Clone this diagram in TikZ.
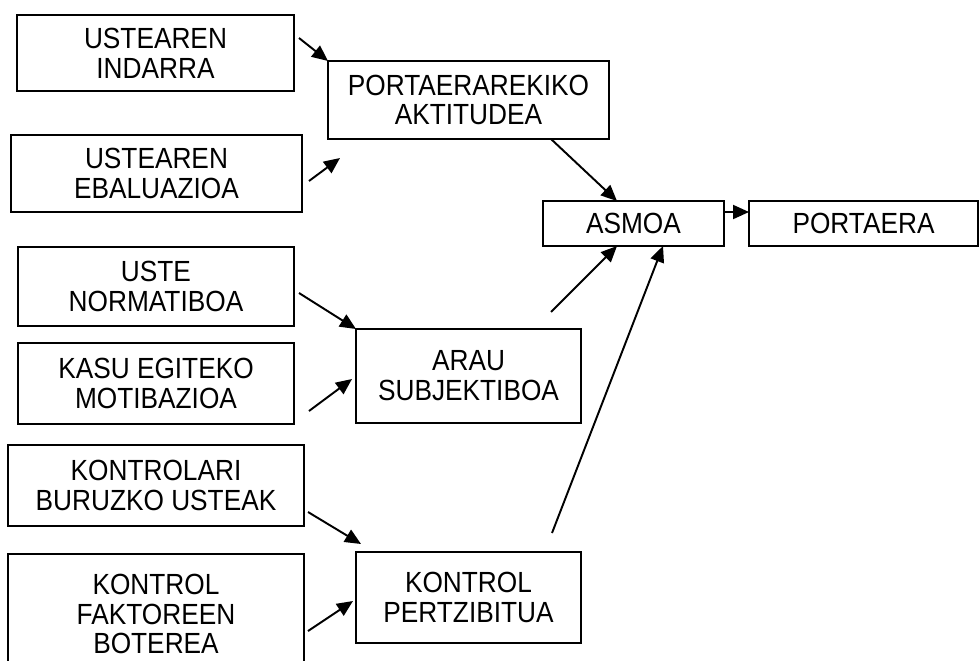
\documentclass[tikz,border=0pt]{standalone}
\usepackage{fontspec}
\setmainfont{Liberation Sans}[FakeStretch=0.9]
\usepackage{tikz}
\usetikzlibrary{arrows.meta,positioning,calc}

\tikzset{
  box/.style={draw, line width=1.1pt, inner sep=0pt, outer sep=0pt, align=center,
    font=\fontsize{16.6}{17}\selectfont},
  arr/.style={line width=1.1pt, -{Triangle[length=0.32cm,width=0.28cm]}}
}

\begin{document}
\begin{tikzpicture}[x=0.02cm, y=-0.02cm]
\useasboundingbox (0,0) rectangle (979,660);
\clip (0,0) rectangle (979,660);

% boxes
\node[box, minimum width=5.54cm, minimum height=1.52cm] (ind) at (155.5,53) {USTEAREN\\INDARRA};
\node[box, minimum width=5.82cm, minimum height=1.54cm] (ebal) at (156.5,173.5) {USTEAREN\\EBALUAZIOA};
\node[box, minimum width=5.62cm, minimum height=1.56cm] (akt) at (468.5,100) {PORTAERAREKIKO\\AKTITUDEA};
\node[box, minimum width=3.62cm, minimum height=0.90cm] (asmoa) at (633.5,223.5) {ASMOA};
\node[box, minimum width=4.58cm, minimum height=0.90cm] (portaera) at (863.5,223.5) {PORTAERA};
\node[box, minimum width=5.52cm, minimum height=1.58cm] (uste) at (156,286.5) {USTE\\NORMATIBOA};
\node[box, minimum width=5.52cm, minimum height=1.62cm] (kasu) at (156,383.5) {KASU EGITEKO\\MOTIBAZIOA};
\node[box, minimum width=4.50cm, minimum height=1.88cm] (arau) at (468.5,376) {ARAU\\SUBJEKTIBOA};
\node[box, minimum width=5.92cm, minimum height=1.62cm] (kontrolari) at (156,485.5) {KONTROLARI\\BURUZKO USTEAK};
\node[box, minimum width=5.92cm, minimum height=2.40cm] (faktore) at (156,614) {KONTROL\\FAKTOREEN\\BOTEREA};
\node[box, minimum width=4.50cm, minimum height=1.82cm] (perz) at (468.5,597.5) {KONTROL\\PERTZIBITUA};

% free ends of the arrows
\coordinate (ind-out) at (299,38);
\coordinate (ebal-out) at (309,181);
\coordinate (ebal-in) at (340,158);
\coordinate (arau-out) at (551,312);
\coordinate (perz-out) at (552,533);
\coordinate (uste-out) at (299,293);
\coordinate (kasu-out) at (309,411);
\coordinate (kasu-in) at (352,379);
\coordinate (kontrolari-out) at (308,512);
\coordinate (kontrolari-in) at (361,544);
\coordinate (faktore-out) at (308,631);
\coordinate (faktore-in) at (353,601);

% arrows
\draw[arr] (ind-out) -- (akt.north west);
\draw[arr] (ebal-out) -- (ebal-in);
\draw[arr] ([xshift=1.65cm]akt.south) -- ([xshift=-0.33cm]asmoa.north);
\draw[arr] (arau-out) -- ([xshift=-0.33cm]asmoa.south);
\draw[arr] (perz-out) -- ([xshift=0.59cm]asmoa.south);
\draw[arr] ([yshift=0.23cm]asmoa.east) -- ([yshift=0.23cm]portaera.west);
\draw[arr] (uste-out) -- (arau.north west);
\draw[arr] (kasu-out) -- (kasu-in);
\draw[arr] (kontrolari-out) -- (kontrolari-in);
\draw[arr] (faktore-out) -- (faktore-in);
\end{tikzpicture}
\end{document}
